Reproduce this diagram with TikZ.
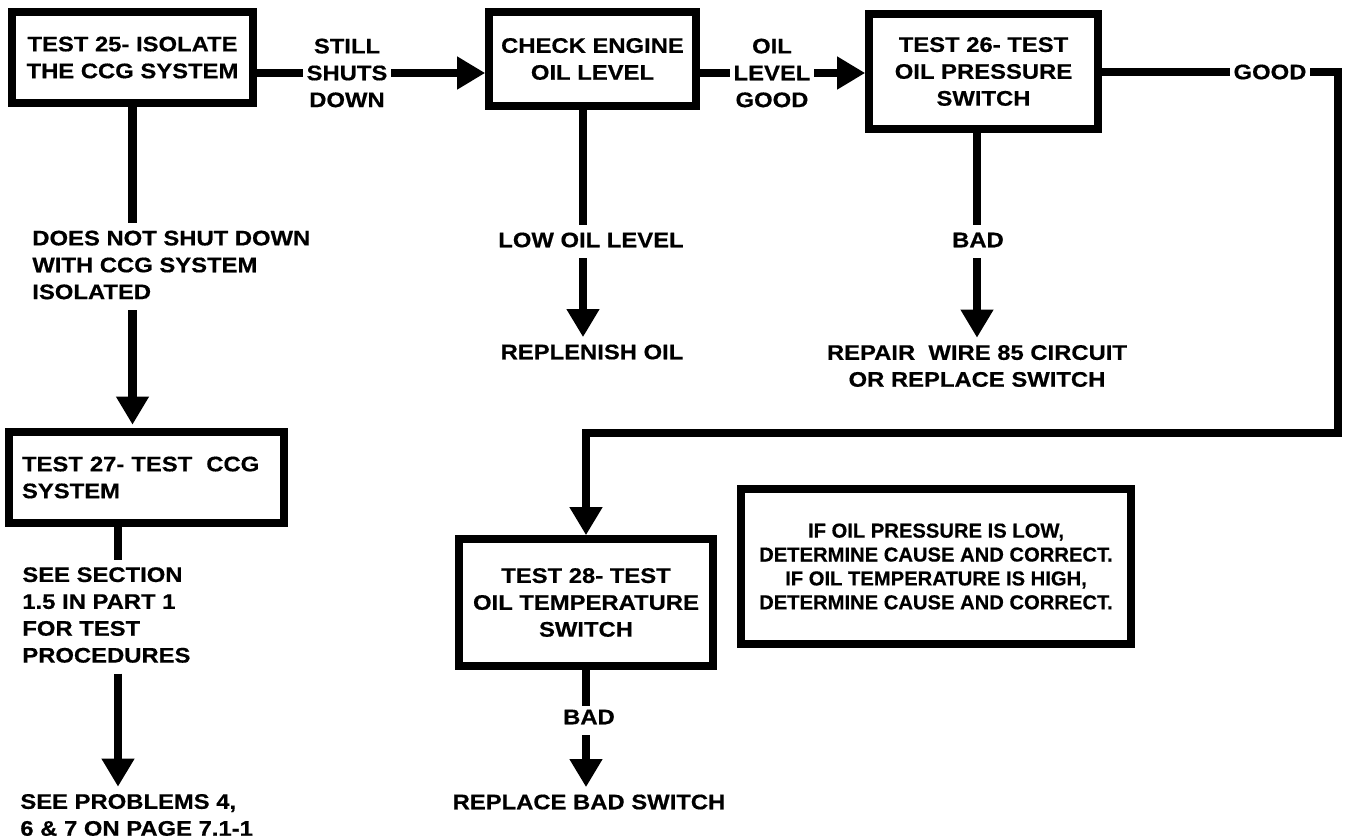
\documentclass[tikz,border=0pt]{standalone}
\usepackage{fontspec}
\setmainfont[FakeStretch=1.13, BoldFeatures={FakeBold=0.5}]{Liberation Sans}
\newfontfamily\notefont[BoldFeatures={FakeBold=0.5}]{Liberation Sans}
\usetikzlibrary{arrows.meta, positioning}
\tikzset{
  box/.style  = {draw, line width=4.6pt, align=center, inner sep=0pt,
                 font=\bfseries\fontsize{12}{15.3}\selectfont},
  lbl/.style  = {inner sep=2pt, align=center,
                 font=\bfseries\fontsize{12}{15.3}\selectfont},
  conn/.style = {line width=4.8pt},
  arr/.style  = {conn, -{Triangle[length=0.56cm, width=0.62cm]}},
  down/.style = {arr, shorten <=4pt, shorten >=2pt}
}
\begin{document}
\begin{tikzpicture}[x=0.02cm, y=-0.02cm]
  \useasboundingbox (0,0) rectangle (1346,839);
  % boxes
  \node[box, minimum width=4.81cm, minimum height=1.81cm] (t25) at (132.5,57.5) {TEST 25- ISOLATE\\THE CCG SYSTEM};
  \node[box, minimum width=4.13cm, minimum height=1.87cm] (engine) at (592.5,59) {CHECK ENGINE\\OIL LEVEL};
  \node[box, minimum width=4.57cm, minimum height=2.29cm] (t26) at (983.5,71.5) {TEST 26- TEST\\OIL PRESSURE\\SWITCH};
  \node[box, minimum width=5.49cm, minimum height=1.81cm, align=left,
        text width=4.98cm, inner xsep=0.255cm] (t27) at (146.5,477.5) {TEST 27- TEST\ \ CCG\\SYSTEM};
  \node[box, minimum width=5.07cm, minimum height=2.53cm] (t28) at (586,602.5) {TEST 28- TEST\\OIL TEMPERATURE\\SWITCH};
  \node[box, minimum width=7.79cm, minimum height=3.09cm,
        font=\notefont\bfseries\fontsize{11.5}{13.6}\selectfont] (note) at (936,566.5)
        {IF OIL PRESSURE IS LOW,\\DETERMINE CAUSE AND CORRECT.\\IF OIL TEMPERATURE IS HIGH,\\DETERMINE CAUSE AND CORRECT.};
  % labels
  \node[lbl] (still) at (347,73) {STILL\\SHUTS\\DOWN};
  \node[lbl] (oil) at (772,73) {OIL\\LEVEL\\GOOD};
  \node[lbl] (good) at (1270,72) {GOOD};
  \node[lbl, align=left, anchor=west] (notshut) at (28.5,265) {DOES NOT SHUT DOWN\\WITH CCG SYSTEM\\ISOLATED};
  \node[lbl] (lowoil) at (591,240) {LOW OIL LEVEL};
  \node[lbl] (replenish) at (592,352) {REPLENISH OIL};
  \node[lbl] (bad1) at (978,240) {BAD};
  \node[lbl] (repair) at (977,366) {REPAIR\ \ WIRE 85 CIRCUIT\\OR REPLACE SWITCH};
  \node[lbl, align=left, anchor=west] (seesec) at (18.5,615) {SEE SECTION\\1.5 IN PART 1\\FOR TEST\\PROCEDURES};
  \node[lbl, align=left, anchor=west] (probs) at (16.5,815) {SEE PROBLEMS 4,\\6 \& 7 ON PAGE 7.1-1};
  \node[lbl] (bad2) at (589,717) {BAD};
  \node[lbl] (replace) at (589,802) {REPLACE BAD SWITCH};
  \coordinate (turn) at (1338,433);
  \coordinate (engout) at ([xshift=-0.19cm]engine.south);
  \coordinate (t26out) at ([xshift=-0.13cm]t26.south);
  \coordinate (t27out) at ([xshift=-0.57cm]t27.south);
  % top row
  \draw[conn] (t25.east |- still) -- (still.west);
  \draw[arr]  (still.east) -- (still -| engine.west);
  \draw[conn] (engine.east |- oil) -- (oil.west);
  \draw[arr]  (oil.east) -- (oil -| t26.west);
  \draw[conn] (t26.east |- good) -- (good.west);
  \draw[arr]  (good.east) -| (turn) -| (t28.north);
  % down branches
  \draw[conn] (t25.south) -- ([yshift=2pt]t25.south |- notshut.north);
  \draw[down] (t25.south |- notshut.south) -- (t25.south |- t27.north);
  \draw[conn] (t27out) -- ([yshift=2pt]t27out |- seesec.north);
  \draw[down] (t27out |- seesec.south) -- (t27out |- probs.north);
  \draw[conn] (engout) -- ([yshift=2pt]engout |- lowoil.north);
  \draw[down] (engout |- lowoil.south) -- (engout |- replenish.north);
  \draw[conn] (t26out) -- ([yshift=2pt]t26out |- bad1.north);
  \draw[down] (t26out |- bad1.south) -- (t26out |- repair.north);
  \draw[conn] (t28.south) -- (t28.south |- bad2.north);
  \draw[down] (t28.south |- bad2.south) -- (t28.south |- replace.north);
\end{tikzpicture}
\end{document}
